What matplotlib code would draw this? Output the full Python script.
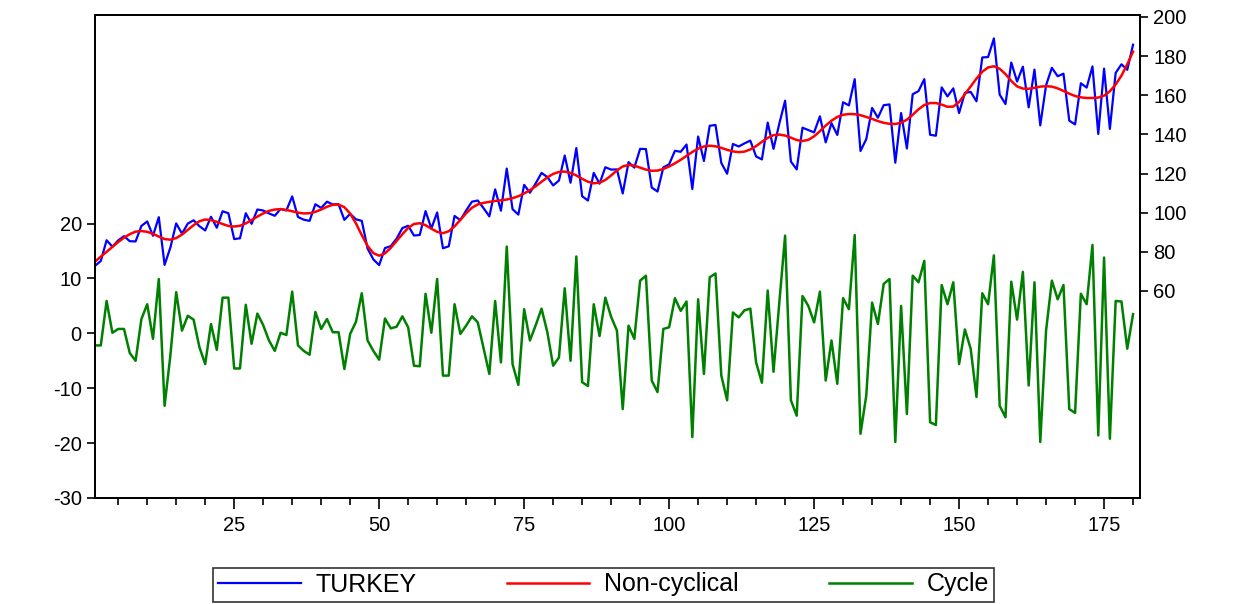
import numpy as np
import matplotlib.pyplot as plt

obs = np.arange(1, 181)

# HP trend (non-cyclical component), right axis
trend = [
    75.0, 77.5, 80.0, 82.5, 85.0, 87.2, 89.0, 90.3, 90.6, 90.2,
    89.2, 87.8, 86.5, 86.2, 87.0, 88.8, 91.2, 93.6, 95.6, 96.5,
    96.2, 95.3, 94.2, 93.2, 92.9, 93.3, 94.5, 96.2, 98.0, 99.6,
    100.9, 101.6, 101.8, 101.4, 100.7, 100.0, 99.6, 99.7, 100.4, 101.6,
    103.0, 104.0, 104.1, 102.8, 99.5, 94.5, 88.5, 83.0, 79.3, 78.0,
    79.2, 82.0, 85.5, 89.0, 92.2, 94.2, 94.6, 93.6, 91.8, 90.2,
    89.5, 90.5, 93.0, 96.3, 99.7, 102.5, 104.2, 105.0, 105.5, 106.0,
    106.3, 106.7, 107.4, 108.4, 109.8, 111.5, 113.5, 115.8, 118.0, 119.8,
    120.8, 121.0, 120.3, 119.0, 117.3, 115.8, 115.0, 115.3, 116.7, 119.0,
    121.6, 123.6, 124.4, 124.0, 123.0, 122.0, 121.4, 121.5, 122.3, 123.6,
    125.2, 127.0, 129.0, 131.0, 132.7, 133.8, 134.2, 133.9, 133.1, 132.1,
    131.3, 130.9, 131.2, 132.3, 134.0, 136.2, 138.2, 139.6, 139.9, 139.4,
    138.3, 137.1, 136.6, 137.2, 139.0, 141.6, 144.5, 147.0, 148.9, 150.0,
    150.4, 150.3, 149.8, 148.9, 147.9, 146.8, 145.9, 145.4, 145.3, 145.9,
    147.5, 150.0, 152.8, 155.0, 156.0, 156.0, 155.2, 154.1, 154.2, 156.5,
    160.5, 164.5, 168.5, 172.0, 174.2, 174.8, 173.5, 170.8, 167.3, 164.5,
    163.4, 163.3, 163.8, 164.4, 164.6, 164.4, 163.5, 162.2, 160.8, 159.6,
    158.9, 158.6, 158.6, 158.8, 159.8, 162.0, 165.5, 170.0, 175.8, 182.3,
]

# cyclical component, left axis
cycle = [
    -2.2, -2.2, 5.9, 0.1, 0.8, 0.8, -3.6, -5.0, 2.6, 5.3,
    -1.0, 9.9, -13.2, -4.0, 7.5, 0.5, 3.2, 2.5, -2.5, -5.6,
    1.7, -3.0, 6.5, 6.5, -6.4, -6.4, 5.2, -1.9, 3.6, 1.5,
    -1.3, -3.2, 0.1, -0.3, 7.6, -2.2, -3.2, -3.9, 3.9, 0.8,
    2.6, 0.2, 0.2, -6.5, -0.1, 2.1, 7.3, -1.3, -3.2, -4.8,
    2.7, 0.9, 1.2, 3.1, 1.1, -5.9, -6.0, 7.2, 0.1, 9.9,
    -7.7, -7.7, 5.3, -0.1, 1.4, 3.1, 2.0, -2.7, -7.4, 5.9,
    -5.3, 15.8, -5.6, -9.4, 4.4, -1.3, 1.5, 4.5, 0.2, -5.9,
    -4.4, 8.2, -5.0, 14.0, -8.9, -9.6, 5.3, -0.5, 6.5, 3.0,
    0.5, -13.8, 1.4, -1.0, 9.6, 10.5, -8.6, -10.7, 0.8, 1.1,
    6.4, 4.1, 5.8, -18.9, 6.2, -7.4, 10.2, 10.9, -7.7, -12.2,
    3.8, 2.9, 4.2, 4.5, -5.3, -9.0, 7.8, -7.0, 5.6, 17.8,
    -12.2, -15.0, 6.8, 5.0, 2.0, 7.6, -8.6, -1.3, -9.2, 6.4,
    4.4, 17.9, -18.3, -11.3, 5.6, 1.7, 9.0, 9.9, -19.8, 5.0,
    -14.7, 10.5, 9.3, 13.2, -16.2, -16.7, 8.8, 5.3, 9.3, -5.6,
    0.7, -2.8, -11.6, 7.3, 5.3, 14.2, -13.2, -15.3, 9.4, 2.5,
    11.2, -9.5, 9.3, -19.8, 0.5, 9.6, 6.2, 8.8, -13.8, -14.5,
    7.2, 5.3, 16.1, -18.6, 13.8, -19.2, 5.9, 5.8, -2.8, 3.5,
]

trend = np.array(trend)
cycle = np.array(cycle)
turkey = trend + cycle  # actual series = trend + cycle

plt.rcParams['font.family'] = ['Liberation Sans', 'DejaVu Sans']
plt.rcParams['axes.unicode_minus'] = False

fig = plt.figure(figsize=(12.37, 6.04), dpi=100)
ax = fig.add_axes([0.0768, 0.1755, 0.8448, 0.7997])
ax2 = ax.twinx()

ax.plot(obs, cycle, color='#008000', lw=1.8, label='Cycle')
ax2.plot(obs, turkey, color='#0000ff', lw=1.6, label='TURKEY')
ax2.plot(obs, trend, color='#ff0000', lw=1.8, label='Non-cyclical')

ax.set_xlim(1, 181.2)
ax.set_ylim(-30, 58)
ax.set_yticks([-30, -20, -10, 0, 10, 20])
ax2.set_ylim(-45.8, 201)
ax2.set_yticks(np.arange(60, 201, 20))

ax.set_xticks([25, 50, 75, 100, 125, 150, 175])
ax.set_xticks(np.arange(5, 181, 5), minor=True)

ax.tick_params(axis='x', which='major', length=8, width=1.2, labelsize=14.5, pad=5)
ax.tick_params(axis='x', which='minor', length=5, width=1.2)
ax.tick_params(axis='y', length=6, width=1.2, labelsize=14.5)
ax2.tick_params(axis='y', length=6, width=1.2, labelsize=14.5)

for a in (ax, ax2):
    for s in a.spines.values():
        s.set_linewidth(1.3)
        s.set_color('black')

h2, l2 = ax2.get_legend_handles_labels()
h1, l1 = ax.get_legend_handles_labels()
leg = fig.legend(h2 + h1, l2 + l1, loc='lower center', bbox_to_anchor=(0.488, 0.0),
                 ncol=3, fontsize=18, frameon=True, fancybox=False,
                 handlelength=3.3, columnspacing=3.6, handletextpad=0.6,
                 borderpad=0.2, borderaxespad=0.1)
leg.get_frame().set_edgecolor('black')
leg.get_frame().set_linewidth(1.2)

fig.savefig('out.png', dpi=100)
